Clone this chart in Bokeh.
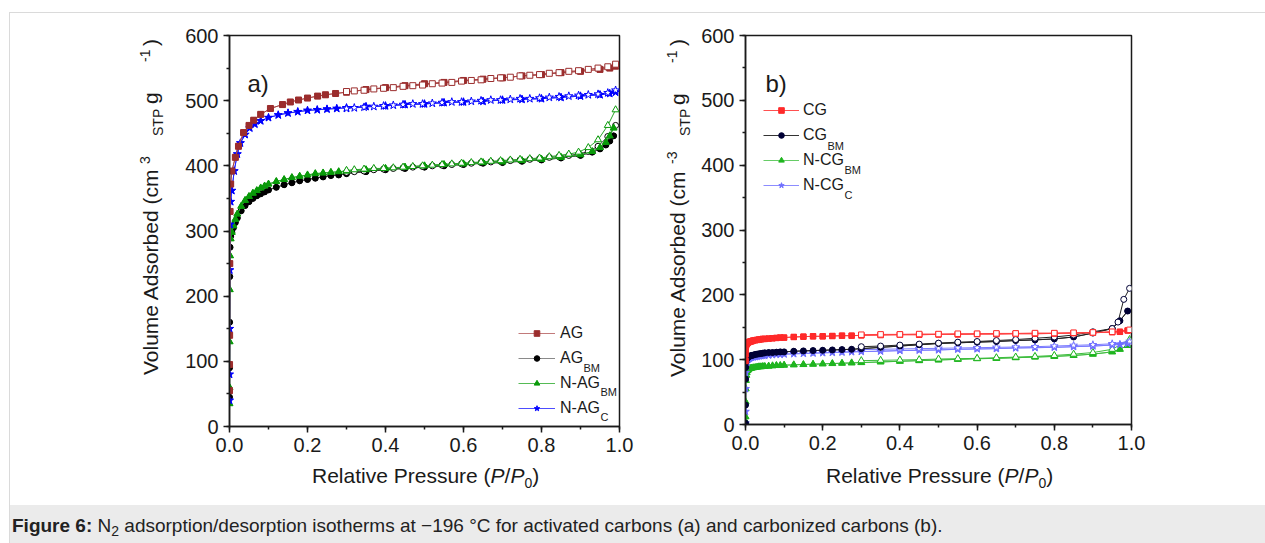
from bokeh.plotting import figure
from bokeh.models import (Range1d, Label, Legend, LegendItem, Div,
                          SingleIntervalTicker, PrintfTickFormatter)
from bokeh.layouts import column, row
from bokeh.embed import file_html
from bokeh.resources import INLINE

FONT = "Liberation Sans"
INK = "#1a1a1a"

# ---------------- data: panel a (activated carbons) ----------------
AG_ADS_P = [0.00002, 0.0001, 0.0003, 0.0007, 0.0015, 0.003, 0.006, 0.015, 0.023, 0.036, 0.05, 0.062,
            0.08, 0.105, 0.136, 0.156, 0.177, 0.2, 0.226, 0.246, 0.272, 0.3, 0.35, 0.4, 0.45, 0.5,
            0.55, 0.6, 0.65, 0.7, 0.75, 0.8, 0.85, 0.9, 0.95, 0.975, 0.99]
AG_ADS_V = [55, 95, 140, 250, 330, 372, 392, 413, 430, 451, 462, 470, 479, 488, 494, 498, 501, 504,
            507, 509, 511, 513, 517, 520, 523, 526, 528, 531, 533, 535, 538, 540, 543, 545, 548, 550, 553]

DES_P_A = [0.99, 0.97, 0.945, 0.92, 0.895, 0.87, 0.845, 0.82, 0.795, 0.77, 0.745, 0.72, 0.695, 0.67,
           0.645, 0.62, 0.595, 0.57, 0.545, 0.52, 0.495, 0.47, 0.445, 0.42, 0.395, 0.37, 0.345, 0.32, 0.3]
AG_DES_V = [556, 552, 550, 548, 546, 545, 543, 542, 540, 539, 538, 536, 535, 534, 532, 531, 530, 528,
            527, 526, 524, 523, 522, 520, 519, 518, 516, 515, 514]

NAGC_ADS_P = [0.00002, 0.0001, 0.0003, 0.0007, 0.0015, 0.003, 0.006, 0.012, 0.02, 0.028, 0.04, 0.052,
              0.065, 0.08, 0.1, 0.125, 0.15, 0.175, 0.2, 0.225, 0.25, 0.275, 0.3, 0.35, 0.4, 0.45, 0.5,
              0.55, 0.6, 0.65, 0.7, 0.75, 0.8, 0.85, 0.9, 0.95, 0.975, 0.99]
NAGC_ADS_V = [40, 80, 150, 240, 310, 345, 362, 392, 418, 435, 448, 458, 464, 469, 474, 478, 481, 483,
              485, 486, 487, 488, 489, 491, 492, 494, 495, 497, 498, 499, 501, 502, 503, 505, 507, 509, 511, 513]
NAGC_DES_V = [516, 512, 510, 509, 508, 507, 506, 505, 504, 503, 503, 502, 501, 501, 500, 499, 498, 498,
              497, 496, 495, 495, 494, 493, 492, 491, 490, 489, 488]

BM_ADS_P = [0.00002, 0.0001, 0.0003, 0.0007, 0.0015, 0.003, 0.006, 0.01, 0.015, 0.02, 0.03, 0.04, 0.05,
            0.06, 0.07, 0.08, 0.09, 0.1, 0.12, 0.14, 0.16, 0.18, 0.2, 0.22, 0.24, 0.26, 0.28, 0.3, 0.35,
            0.4, 0.45, 0.5, 0.55, 0.6, 0.65, 0.7, 0.75, 0.8, 0.85, 0.9, 0.93, 0.95, 0.965, 0.975, 0.985]
AGBM_ADS_V = [45, 90, 160, 230, 275, 292, 298, 305, 313, 320, 331, 339, 345, 350, 354, 357, 360, 363,
              367, 371, 374, 377, 379, 381, 383, 385, 386, 388, 391, 394, 396, 398, 400, 402, 404, 405,
              407, 409, 412, 416, 421, 426, 432, 438, 446]
AGBM_DES_V = [462, 445, 430, 422, 418, 416, 414, 413, 411, 410, 409, 408, 407, 406, 405, 404, 403, 402,
              401, 400, 399, 398, 397, 396, 395, 394, 392, 391, 390]
NAGBM_ADS_V = [35, 60, 130, 210, 262, 288, 298, 308, 318, 326, 338, 347, 353, 358, 362, 366, 369, 372,
               376, 379, 382, 384, 386, 388, 389, 390, 391, 392, 394, 396, 398, 400, 402, 403, 405, 406,
               408, 410, 413, 417, 422, 428, 436, 446, 458]
NAGBM_DES_V = [486, 462, 440, 428, 421, 418, 416, 414, 412, 411, 410, 409, 408, 407, 406, 405, 404, 403,
               402, 401, 400, 399, 398, 397, 396, 396, 395, 394, 393]

# ---------------- data: panel b (carbonized carbons) ----------------
ADS_P_B = [0.00001, 0.00005, 0.0002, 0.0005, 0.001, 0.002, 0.003, 0.005, 0.007, 0.01, 0.013, 0.016,
           0.02, 0.025, 0.03, 0.035, 0.04, 0.045, 0.05, 0.06, 0.07, 0.08, 0.09, 0.1, 0.125, 0.15, 0.175,
           0.2, 0.225, 0.25, 0.275, 0.3, 0.35, 0.4, 0.45, 0.5, 0.55, 0.6, 0.65, 0.7, 0.75, 0.8, 0.85,
           0.9, 0.95, 0.97, 0.99]
DES_P_B = [0.995, 0.95, 0.9, 0.85, 0.8, 0.75, 0.7, 0.65, 0.6, 0.55, 0.5, 0.45, 0.4, 0.35, 0.3]

CG_ADS_V = [98, 108, 115, 119, 121, 123, 124.5, 125.5, 126.5, 127.5, 128, 128.5, 129.5, 130, 130.5, 131,
            131.5, 132, 132, 132.5, 133, 133.5, 134, 134, 135, 135.5, 136, 136, 136.5, 137, 137, 137.5,
            138, 138.5, 138.5, 139, 139, 139.5, 139.5, 140, 140, 140.5, 141, 141.5, 142.5, 143, 145]
CG_DES_V = [146, 143, 142, 141.5, 141, 141, 140.5, 140.5, 140, 140, 139.5, 139.5, 139, 139, 138.5]

CGBM_ADS_V = [2, 30, 70, 88, 96, 100, 101.5, 103, 104, 105, 106, 106.5, 107, 108, 108.5, 109, 109.5,
              110, 110.5, 111, 111, 111.5, 112, 112, 113, 113.5, 114, 114.5, 115, 115.5, 116, 117, 119,
              121, 123, 125, 126, 127, 128, 129.5, 130.5, 132, 135, 141, 148, 160, 175]
CGBM_DES_P = [0.995, 0.98, 0.965, 0.95, 0.9, 0.85, 0.8, 0.75, 0.7, 0.65, 0.6, 0.55, 0.5, 0.45, 0.4, 0.35, 0.3]
CGBM_DES_V = [210, 193, 158, 148, 143, 138, 135, 133, 131, 129.5, 128, 127, 125.5, 124, 122.5, 121, 120]

NCGBM_ADS_V = [5, 12, 35, 55, 68, 76, 80, 83, 84.5, 86, 86.5, 87, 87.5, 88, 88.5, 89, 89, 89.5, 89.5, 90,
               90.5, 91, 91, 91.5, 92, 92.5, 93, 93.5, 94, 94.5, 95, 95.5, 96.5, 97.5, 98.5, 99.5, 100.5,
               101.5, 102, 103, 104, 105, 106.5, 108.5, 112, 116, 122]
NCGBM_DES_V = [131, 116, 111, 108.5, 106.5, 105, 104, 103, 102, 101.5, 101, 100, 99.5, 99, 98.5]

NCGC_ADS_V = [2, 20, 55, 80, 90, 96, 98, 100, 101, 102, 103, 103.5, 104, 104.5, 105, 105.5, 106, 106.5,
              106.5, 107, 107.5, 108, 108, 108.5, 109, 109.5, 110, 110.5, 111, 111.5, 112, 112.5, 113,
              114, 114.5, 115, 116, 116.5, 117, 118, 118.5, 119, 120, 121, 122.5, 123.5, 125]
NCGC_DES_V = [128, 124.5, 123, 122, 121, 120, 119.5, 119, 118.5, 118, 117.5, 117, 116.5, 116, 115.5]

X_TICK_STEP = 0.2
Y_TICK_STEP = 100


def make_fig(width, height, bl, br, bt, bb):
    p = figure(width=width, height=height, x_range=Range1d(0, 1.0), y_range=Range1d(0, 600),
               output_backend="svg", toolbar_location=None,
               min_border_left=bl, min_border_right=br, min_border_top=bt, min_border_bottom=bb)
    p.xgrid.visible = False
    p.ygrid.visible = False
    p.outline_line_color = INK
    p.outline_line_width = 1.5
    p.outline_line_alpha = 1
    p.background_fill_color = "white"
    p.border_fill_color = "white"
    p.xaxis.ticker = SingleIntervalTicker(interval=X_TICK_STEP, num_minor_ticks=2)
    p.yaxis.ticker = SingleIntervalTicker(interval=Y_TICK_STEP, num_minor_ticks=2)
    p.xaxis.formatter = PrintfTickFormatter(format="%.1f")
    for ax in (p.xaxis[0], p.yaxis[0]):
        ax.axis_line_color = INK
        ax.axis_line_width = 1.5
        ax.major_tick_line_color = INK
        ax.minor_tick_line_color = INK
        ax.major_tick_line_width = 1.5
        ax.minor_tick_line_width = 1.5
        ax.major_tick_in = 0
        ax.major_tick_out = 6
        ax.minor_tick_in = 0
        ax.minor_tick_out = 3
        ax.major_label_text_font = FONT
        ax.major_label_text_font_size = "20px"
        ax.major_label_text_color = INK
        ax.major_label_standoff = 5
    return p


def add_series(p, ads_p, ads_v, des_p, des_v, color, line_color, marker, size, leg_line, leg_size):
    # legend key renderers: drawn first on the adsorption data, hidden under the real marks
    kl = p.line(ads_p, ads_v, line_color=leg_line, line_width=1)
    ks = p.scatter(ads_p, ads_v, marker=marker, size=leg_size, fill_color=color, line_color=color)
    p.line(ads_p, ads_v, line_color=line_color, line_width=1)
    p.line(des_p, des_v, line_color=line_color, line_width=1)
    p.scatter(ads_p, ads_v, marker=marker, size=size, fill_color=color, line_color=color)
    p.scatter(des_p, des_v, marker=marker, size=size, fill_color="white", line_color=color, line_width=1)
    return [kl, ks]


def lab(p, x, y, text, size):
    p.add_layout(Label(x=x, y=y, x_units="screen", y_units="screen", text=text,
                       text_font=FONT, text_font_size=f"{size}px", text_color=INK,
                       text_align="left", text_baseline="alphabetic"))


BASE = 0.8465  # baseline position (fraction of font size) with line-height 1


def ylabel_div(width, height, ox, oy, pieces):
    spans = []
    for txt, y_start, x_base, size in pieces:
        left = x_base - ox - BASE * size
        top = y_start - oy
        spans.append(
            f'<span style="position:absolute; left:{left:.1f}px; top:{top:.1f}px; '
            f'transform-origin:0 0; transform:rotate(-90deg); white-space:nowrap; line-height:1; '
            f'font-family:\'{FONT}\'; font-size:{size}px; color:{INK};">{txt}</span>')
    html = (f'<div style="position:relative; width:{width}px; height:{height}px; overflow:visible;">'
            + "".join(spans) + "</div>")
    return Div(width=width, height=height, text=html, margin=0)


def xlabel_div(width, height, ox, oy, x_start, y_base):
    left = x_start - ox
    top = y_base - oy - BASE * 21
    html = (f'<div style="position:relative; width:{width}px; height:{height}px;">'
            f'<span style="position:absolute; left:{left:.1f}px; top:{top:.1f}px; white-space:nowrap; '
            f'line-height:1; font-family:\'{FONT}\'; font-size:21px; color:{INK};">'
            f'Relative Pressure (<i>P</i>/<i>P</i><span style="font-size:14px; position:relative; top:5px;">0</span>)'
            f'</span></div>')
    return Div(width=width, height=height, text=html, margin=0)


def legend(items, loc, gw, standoff):
    return Legend(items=items, location=loc, padding=0, spacing=0, margin=0, glyph_width=gw,
                  glyph_height=14, label_height=25, label_standoff=standoff, border_line_color=None,
                  background_fill_alpha=0, label_text_font=FONT, label_text_font_size="16px",
                  label_text_color=INK)


# ---------------- panel a ----------------
pa = make_fig(465, 450, 54, 21, 22, 37)
ra_bm = add_series(pa, BM_ADS_P, AGBM_ADS_V, DES_P_A, AGBM_DES_V, "#000000", "#333333", "circle", 6,
                   "#8a8a8a", 5)
ra_nbm = add_series(pa, BM_ADS_P, NAGBM_ADS_V, DES_P_A, NAGBM_DES_V, "#0a9a0a", "#2aa52a", "triangle", 7,
                    "#55bb55", 6)
ra_nc = add_series(pa, NAGC_ADS_P, NAGC_ADS_V, DES_P_A, NAGC_DES_V, "#0000ff", "#2222ff", "star", 8.5,
                   "#4d4dff", 7)
ra_ag = add_series(pa, AG_ADS_P, AG_ADS_V, DES_P_A, AG_DES_V, "#9b2d2d", "#a84444", "square", 6,
                   "#c27a7a", 5)

pa.add_layout(legend([LegendItem(label="AG", renderers=ra_ag),
                      LegendItem(label="AG", renderers=ra_bm),
                      LegendItem(label="N-AG", renderers=ra_nbm),
                      LegendItem(label="N-AG", renderers=ra_nc)], (289, 5.5), 37, 5))
lab(pa, 354, 59, "BM", 11)
lab(pa, 371, 35, "BM", 11)
lab(pa, 371, 10, "C", 11)
lab(pa, 18, 343, "a)", 24)

ylab_a = ylabel_div(165, 492, 10, 13,
                    [("Volume Adsorbed (cm", 375, 158, 21), ("3", 164, 150, 14), ("STP", 136, 163, 14),
                     ("g", 104, 158, 21), ("-1", 62, 150, 14), (")", 46, 158, 21)])
xlab_a = xlabel_div(465, 42, 175, 463, 312, 483)

# ---------------- panel b ----------------
pb = make_fig(570, 450, 50, 134, 22, 39)
rb_nbm = add_series(pb, ADS_P_B, NCGBM_ADS_V, DES_P_B, NCGBM_DES_V, "#1fb51f", "#3cbc3c", "triangle", 7,
                    "#66cc66", 6)
rb_nc = add_series(pb, ADS_P_B, NCGC_ADS_V, DES_P_B, NCGC_DES_V, "#6f6fff", "#7a7aff", "star", 8,
                   "#8c8cff", 7)
rb_bm = add_series(pb, ADS_P_B, CGBM_ADS_V, CGBM_DES_P, CGBM_DES_V, "#000035", "#222222", "circle", 6,
                   "#333333", 5)
rb_cg = add_series(pb, ADS_P_B, CG_ADS_V, DES_P_B, CG_DES_V, "#ff2a2a", "#ff4040", "square", 5.5,
                   "#ff5050", 5)

pb.add_layout(legend([LegendItem(label="CG", renderers=rb_cg),
                      LegendItem(label="CG", renderers=rb_bm),
                      LegendItem(label="N-CG", renderers=rb_nbm),
                      LegendItem(label="N-CG", renderers=rb_nc)], (18, 226.5), 36, 4))
lab(pb, 82, 279, "BM", 11)
lab(pb, 99, 255, "BM", 11)
lab(pb, 99, 230, "C", 11)
lab(pb, 20, 341, "b)", 24)

ylab_b = ylabel_div(55, 492, 640, 13,
                    [("Volume Adsorbed (cm", 377, 685, 21), ("-3", 164, 677, 14), ("STP", 136, 690, 14),
                     ("g", 105, 685, 21), ("-1", 63, 677, 14), (")", 46, 685, 21)])
xlab_b = xlabel_div(570, 42, 695, 463, 826, 483)

# ---------------- caption ----------------
cap = Div(width=1255, height=38, margin=0,
          text=("<div style=\"padding:11px 0 0 2px; font-family:'Liberation Sans', Arial, sans-serif; "
                "font-size:19px; line-height:1; color:#222; white-space:nowrap;\"><b>Figure 6:</b> "
                "N<span style=\"font-size:14px; position:relative; top:4px;\">2</span> "
                "adsorption/desorption isotherms at \u2212196 \u00b0C for activated carbons (a) and "
                "carbonized carbons (b).</div>"),
          styles={"background-color": "#ebebeb"})

panel_a = row(ylab_a, column(pa, xlab_a, spacing=0), spacing=0)
panel_b = row(ylab_b, column(pb, xlab_b, spacing=0), spacing=0)
root = column(row(panel_a, panel_b, spacing=0), cap, spacing=0, margin=(12, 0, 0, 9),
              styles={"border-top": "1px solid #dadada", "border-left": "1px solid #dadada"})

open("out.html", "w").write(file_html(root, INLINE))
